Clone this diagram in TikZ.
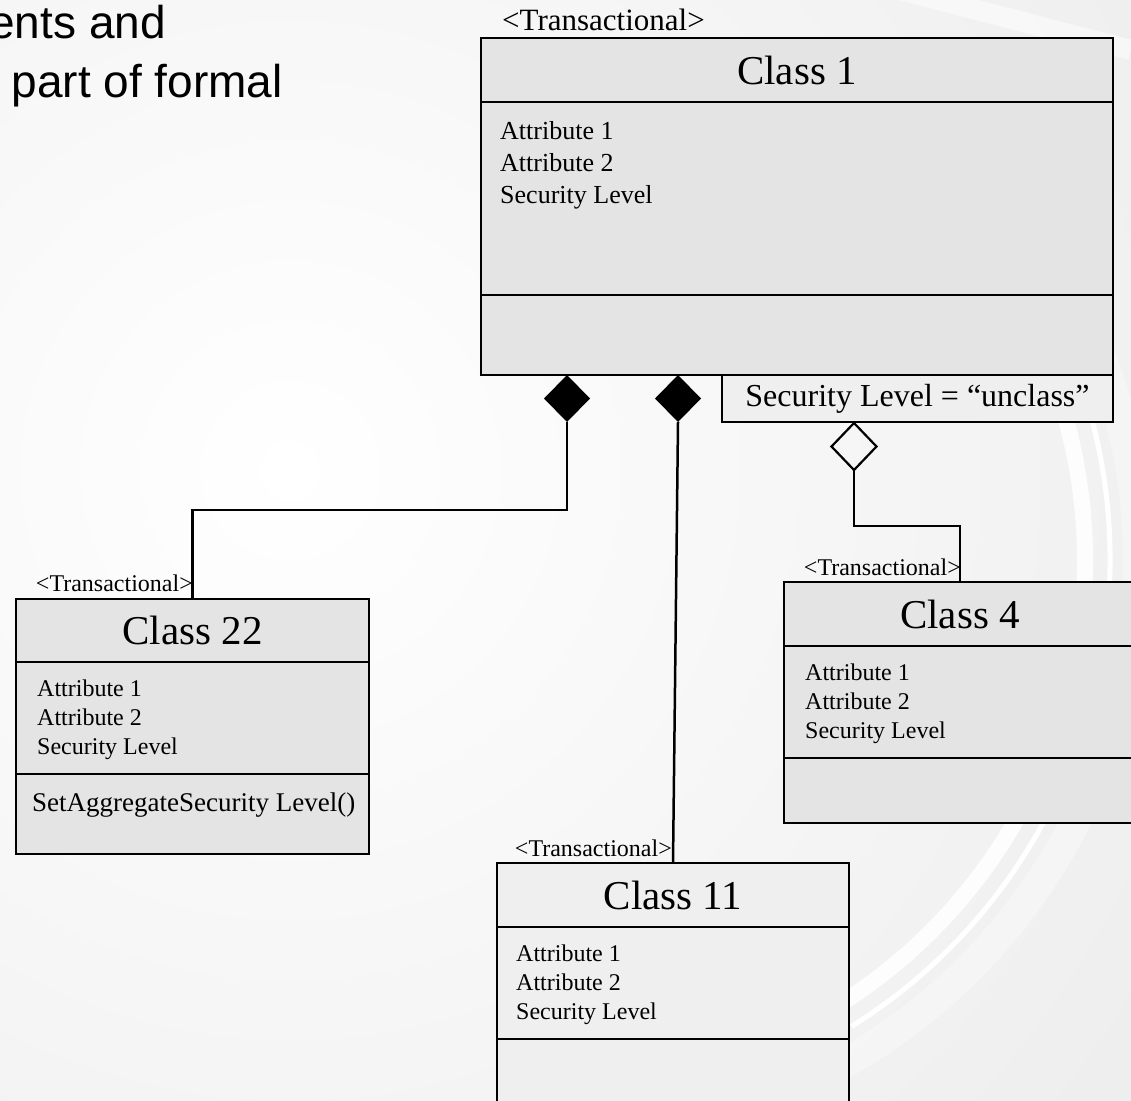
\documentclass[tikz,border=0pt]{standalone}
\usepackage{fontspec}
\setmainfont{Liberation Serif}
\newfontfamily\slidefont{Liberation Sans}
\usetikzlibrary{positioning,shapes.geometric}

\definecolor{boxgray}{HTML}{E4E4E4}
\definecolor{notegray}{HTML}{EFEFEF}
\definecolor{bggray}{HTML}{E6E6E6}

\newcommand{\pxsize}[1]{\fontsize{#1}{#1}\selectfont}

\begin{document}
\begin{tikzpicture}[
    x=1pt, y=-1pt,
    % Compartments of a class box
    namepart/.style={draw, line width=2.5pt, fill=boxgray, inner sep=0pt, outer sep=0pt, font=\pxsize{41}},
    bodypart/.style={draw, line width=2.5pt, fill=boxgray, inner sep=0pt, outer sep=0pt},
    % Texts inside and above the boxes
    attr/.style={anchor=base west, inner sep=0pt, font=\pxsize{24}},
    stereo/.style={anchor=base east, inner sep=0pt, font=\pxsize{24}},
    % Aggregation ends
    composite/.style={diamond, aspect=1, fill=black, inner sep=0pt, outer sep=0pt, minimum width=46pt, minimum height=47pt},
    shared/.style={diamond, aspect=1, draw, line width=2.2pt, inner sep=0pt, outer sep=0pt, minimum width=45pt, minimum height=47pt},
    link/.style={line width=2.5pt}
]

    % --- 1. Background ---
    \useasboundingbox (0,0) rectangle (1131,1100);
    \fill[bggray] (0,0) rectangle (1131,1100);
    \begin{scope}
        \clip (0,0) rectangle (1131,1100);
        \shade[inner color=white, outer color=bggray] (290,470) circle[radius=1500];
        % swooshes on the right
        \draw[white, line width=30pt, opacity=0.35] (560,560) ++(-45:578) arc[start angle=-45, end angle=68, radius=578];
        \draw[white, line width=16pt, opacity=0.9] (560,560) ++(-50:525) arc[start angle=-50, end angle=72, radius=525];
        \draw[white, line width=5pt] (560,560) ++(-30:550) arc[start angle=-30, end angle=58, radius=550];
        \draw[white, line width=20pt, opacity=0.5] (900,-10) -- (1131,50);
    \end{scope}

    % --- 2. Slide text (cut at the left) ---
    \node[anchor=base east, inner sep=0pt, font=\slidefont\pxsize{46}] (slideA) at (166,38) {ents and};
    \node[anchor=base east, inner sep=0pt, font=\slidefont\pxsize{46}] (slideB) at (283,97) {part of formal};

    % --- 3. Class 1 ---
    \node[namepart, anchor=north west, minimum width=632pt, minimum height=64pt] (c1) at (481,38) {Class 1};
    \node[bodypart, minimum width=632pt, minimum height=193pt, below=0pt of c1] (c1attr) {};
    \node[bodypart, minimum width=632pt, minimum height=80pt, below=0pt of c1attr] (c1ops) {};
    \node[anchor=base west, inner sep=0pt, font=\pxsize{31}] (c1st) at (502,30) {<Transactional>};
    \foreach \txt [count=\i] in {Attribute 1, Attribute 2, Security Level}
        \node[attr, font=\pxsize{26}] (c1a\i) at (500,107+32*\i) {\txt};

    % tagged value
    \node[draw, line width=2.2pt, fill=notegray, anchor=north west, inner sep=0pt, outer sep=0pt,
          minimum width=391pt, minimum height=47pt, font=\pxsize{32}] (note) at (722,375)
          {Security Level = ``unclass''};

    % --- 4. Class 22 ---
    \node[namepart, anchor=north west, minimum width=353pt, minimum height=63pt] (c22) at (16,599) {Class 22};
    \node[bodypart, minimum width=353pt, minimum height=112pt, below=0pt of c22] (c22attr) {};
    \node[bodypart, minimum width=353pt, minimum height=80pt, below=0pt of c22attr] (c22ops) {};
    \node[stereo] (c22st) at (193,591) {<Transactional>};
    \foreach \txt [count=\i] in {Attribute 1, Attribute 2, Security Level}
        \node[attr] (c22a\i) at (37,667+29*\i) {\txt};
    \node[attr, font=\pxsize{27}] (c22op) at (32,811) {SetAggregateSecurity Level()};

    % --- 5. Class 4 ---
    \node[namepart, anchor=north west, minimum width=352pt, minimum height=64pt] (c4) at (784,582) {Class 4};
    \node[bodypart, minimum width=352pt, minimum height=112pt, below=0pt of c4] (c4attr) {};
    \node[bodypart, minimum width=352pt, minimum height=65pt, below=0pt of c4attr] (c4ops) {};
    \node[stereo] (c4st) at (961,575) {<Transactional>};
    \foreach \txt [count=\i] in {Attribute 1, Attribute 2, Security Level}
        \node[attr] (c4a\i) at (805,651+29*\i) {\txt};

    % --- 6. Class 11 ---
    \node[namepart, fill=notegray, anchor=north west, minimum width=352pt, minimum height=64pt] (c11) at (497,863) {Class 11};
    \node[bodypart, fill=notegray, minimum width=352pt, minimum height=112pt, below=0pt of c11] (c11attr) {};
    \node[bodypart, fill=notegray, minimum width=352pt, minimum height=100pt, below=0pt of c11attr] (c11ops) {};
    \node[stereo] (c11st) at (672,856) {<Transactional>};
    \foreach \txt [count=\i] in {Attribute 1, Attribute 2, Security Level}
        \node[attr] (c11a\i) at (516,932+29*\i) {\txt};

    % --- 7. Aggregations ---
    \node[composite, anchor=north] (d1) at (567,375) {};
    \node[composite, anchor=north] (d2) at (678,375) {};
    \node[shared, anchor=north] (d3) at (854,423) {};

    \draw[link] (d1.south) -- ++(0,88) -| (c22.north);
    \draw[link] (d2.south) -- (c11.north);
    \draw[link] (d3.south) -- ++(0,56) -| (c4.north);

\end{tikzpicture}
\end{document}
